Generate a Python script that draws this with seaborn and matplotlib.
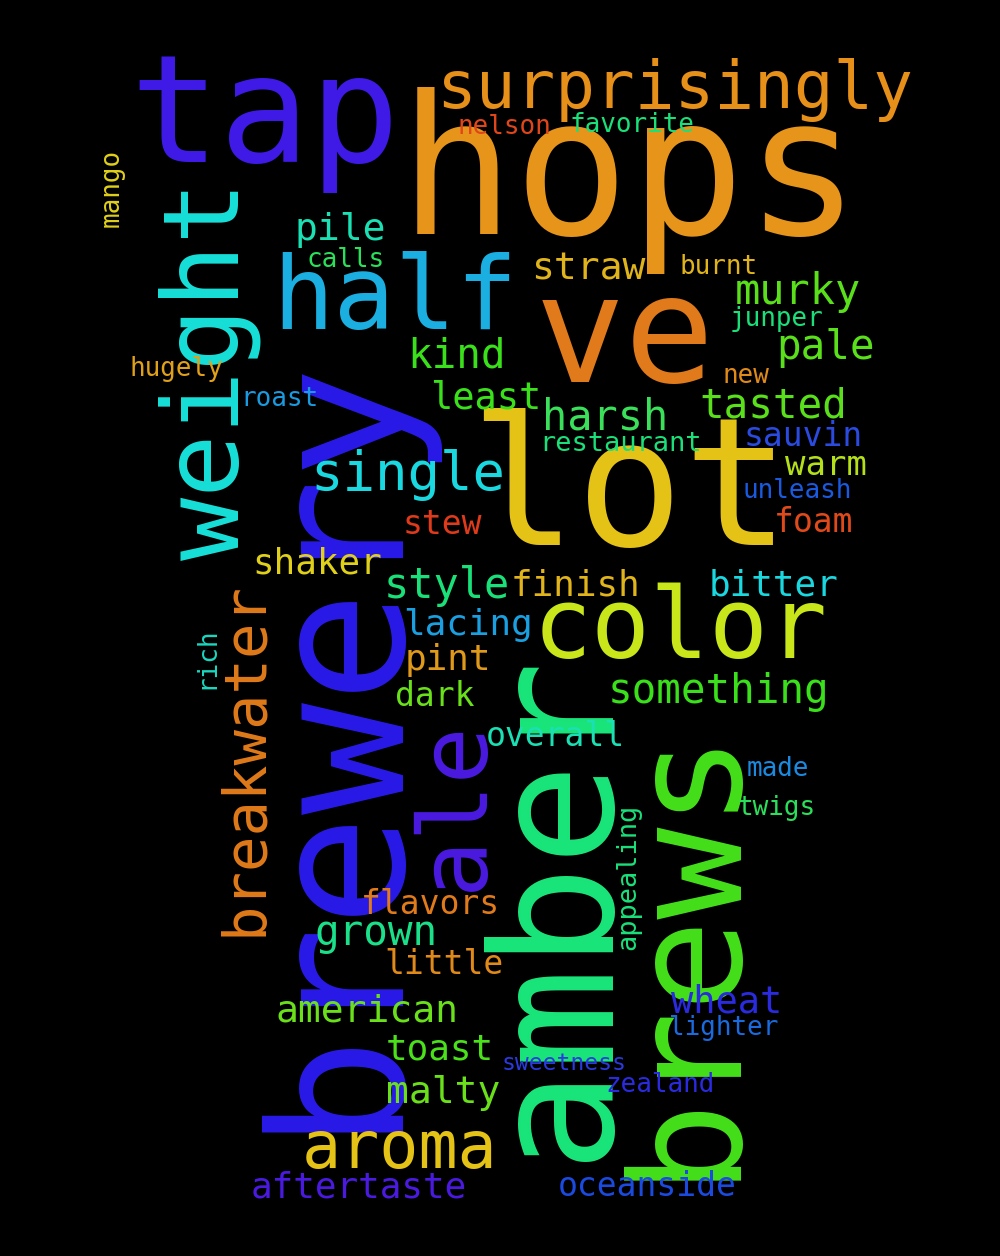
import matplotlib
matplotlib.use('Agg')
import matplotlib.pyplot as plt
import seaborn as sns

# word cloud data: word, centre x/y (px), font size (px), rotated, colour
words = ['hops', 'tap', 'surprisingly', 've', 'lot', 'brewery', 'weight', 'half', 'amber', 'brews',
         'ale', 'color', 'breakwater', 'single', 'aroma', 'pile', 'straw', 'murky', 'kind', 'pale',
         'least', 'harsh', 'tasted', 'sauvin', 'restaurant', 'warm', 'unleash', 'stew', 'foam', 'shaker',
         'style', 'finish', 'bitter', 'lacing', 'pint', 'something', 'dark', 'overall', 'made', 'twigs',
         'appealing', 'flavors', 'grown', 'little', 'american', 'wheat', 'lighter', 'toast', 'sweetness', 'malty',
         'zealand', 'aftertaste', 'oceanside', 'nelson', 'favorite', 'mango', 'calls', 'burnt', 'junper', 'hugely',
         'new', 'roast', 'rich']
xs = [630, 265, 675, 625, 630, 335, 210, 395, 555, 685,
      455, 680, 245, 408, 400, 340, 588, 798, 457, 826,
      486, 605, 773, 803, 620, 826, 797, 442, 814, 317,
      447, 575, 774, 468, 448, 718, 435, 555, 778, 776,
      628, 430, 376, 444, 367, 727, 724, 440, 564, 443,
      660, 359, 647, 504, 632, 112, 346, 719, 776, 176,
      746, 279, 206]
ys = [180, 120, 90, 340, 495, 740, 370, 300, 905, 950,
      805, 630, 758, 475, 1150, 230, 270, 292, 357, 348,
      398, 418, 407, 437, 444, 465, 491, 524, 522, 564,
      586, 585, 585, 625, 660, 692, 697, 737, 769, 808,
      877, 905, 934, 964, 1012, 1002, 1028, 1050, 1064, 1093,
      1085, 1187, 1187, 127, 125, 188, 260, 267, 319, 369,
      376, 399, 658]
sizes = [192, 150, 66, 150, 178, 186, 105, 102, 170, 153,
         95, 98, 59, 54, 65, 38, 38, 42, 41, 41,
         37, 42, 41, 33, 27, 34, 26, 33, 33, 36,
         42, 36, 36, 36, 36, 41, 33, 33, 26, 26,
         27, 33, 41, 33, 38, 37, 26, 36, 23, 38,
         26, 36, 33, 26, 26, 26, 26, 26, 26, 26,
         26, 26, 26]
vertical = {'brewery', 'weight', 'amber', 'brews', 'ale', 'breakwater', 'appealing', 'mango', 'rich'}
colors = ['#e6951a', '#3f1ae6', '#e6901a', '#e07a1a', '#e5c316', '#2a1ae8', '#17e0d8', '#1aafe0', '#1ae67a', '#44e01a',
          '#4a1ae0', '#c8e61a', '#e07a1a', '#1ad8e0', '#e5c316', '#1ae0b4', '#e0b41a', '#5ae01a', '#3ae01a', '#5ae01a',
          '#3ae01a', '#3ae05a', '#5ae01a', '#2a4ae0', '#1ae07a', '#b4e01a', '#1a5ae0', '#e03a1a', '#e04a1a', '#e0d01a',
          '#1ae07a', '#e0b41a', '#1ad8e0', '#1aa0e0', '#e09a1a', '#3ae01a', '#6ae01a', '#1ae0b4', '#1a8ae0', '#2ae05a',
          '#1ae07a', '#e07a1a', '#1ae08a', '#e08a1a', '#6ae01a', '#2a2ae0', '#1a6ae0', '#4ae01a', '#2a3ae0', '#6ae01a',
          '#2a2ae0', '#4a1ae0', '#1a4ae0', '#e0461a', '#1ae07a', '#e0d01a', '#2ae05a', '#e0b41a', '#1ae07a', '#e0a01a',
          '#e08a1a', '#1a9ae0', '#1ad8c0']

sns.set_theme(style='white')
plt.rcParams['font.family'] = ['DejaVu Sans Mono']

W, H = 1000, 1256
fig = plt.figure(figsize=(W / 100, H / 100), dpi=100, facecolor='black')

for w, x, y, s, c in zip(words, xs, ys, sizes, colors):
    fig.text(x / W, 1 - y / H, w, fontsize=s * 0.72, color=c,
             rotation=90 if w in vertical else 0,
             ha='center', va='center')

fig.savefig('out.png', dpi=100, facecolor='black')
